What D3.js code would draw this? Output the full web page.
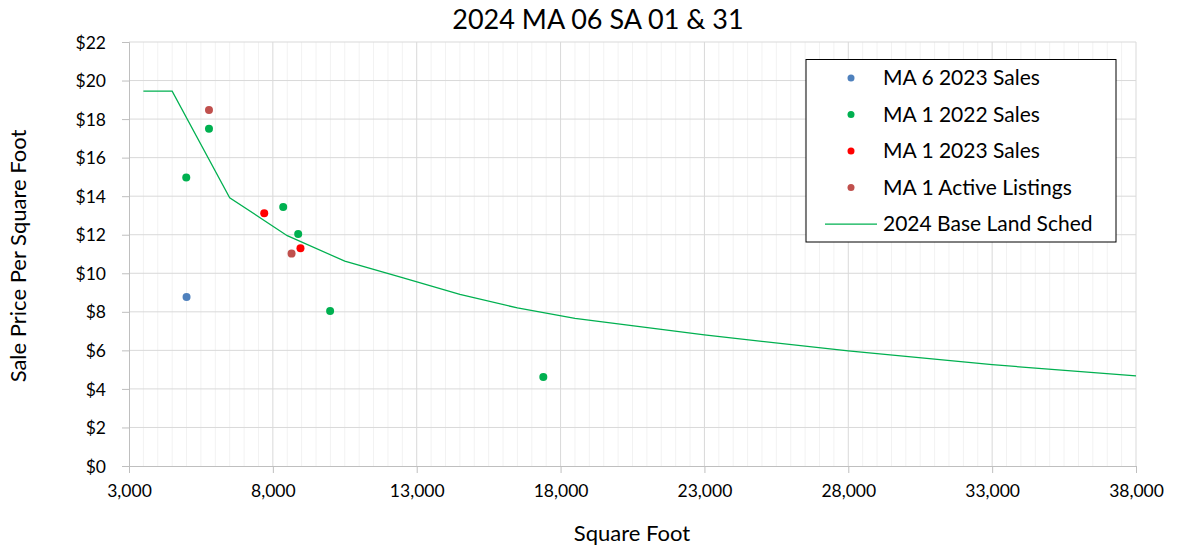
<!DOCTYPE html>
<html><head><meta charset="utf-8">
<script src="https://cdn.jsdelivr.net/npm/d3@7"></script>
<style>body{margin:0;background:#fff}svg{display:block}text{font-family:"Lato","Open Sans",sans-serif;fill:#000}</style>
</head><body><svg id="c" width="1178" height="548"></svg>
<script>
const ma6_2023 = [[5000, 8.77]];
const ma1_2022 = [[4990, 14.97], [5780, 17.5], [8360, 13.44], [8880, 12.04], [9990, 8.04], [17400, 4.62]];
const ma1_2023 = [[7700, 13.11], [8960, 11.3]];
const ma1_active = [[5780, 18.47], [8650, 11.02]];
const landSched = [[3500, 19.45], [4500, 19.45], [6500, 13.92], [8500, 11.95], [10500, 10.63], [12500, 9.77], [14500, 8.9], [16500, 8.2], [18500, 7.66], [23000, 6.8], [28000, 5.97], [33000, 5.26], [38000, 4.67]];
const xTicks = [3000, 8000, 13000, 18000, 23000, 28000, 33000, 38000];
const yTicks = [0, 2, 4, 6, 8, 10, 12, 14, 16, 18, 20, 22];
const seriesNames = ["MA 6 2023 Sales", "MA 1 2022 Sales", "MA 1 2023 Sales", "MA 1 Active Listings", "2024 Base Land Sched"];
const colors = ["#4F81BD", "#00B050", "#FF0000", "#C0504D", "#00B050"];

const svg = d3.select("#c");
const L = 129, R = 1136, T = 42, B = 466;
const x = d3.scaleLinear().domain([3000, 38000]).range([L, R]);
const y = d3.scaleLinear().domain([0, 22]).range([B, T]);

const minor = d3.range(3500, 38000, 500).filter(v => v % 5000 !== 3000);
svg.append("g").selectAll("line").data(minor).join("line")
  .attr("x1", d => x(d)).attr("x2", d => x(d)).attr("y1", T).attr("y2", B)
  .attr("stroke", "#f2f2f2").attr("stroke-width", 1);
svg.append("g").selectAll("line").data(xTicks.slice(1)).join("line")
  .attr("x1", d => x(d)).attr("x2", d => x(d)).attr("y1", T).attr("y2", B)
  .attr("stroke", "#d9d9d9").attr("stroke-width", 1);
svg.append("g").selectAll("line").data(yTicks.slice(1)).join("line")
  .attr("x1", L).attr("x2", R).attr("y1", d => y(d)).attr("y2", d => y(d))
  .attr("stroke", "#d9d9d9").attr("stroke-width", 1);

const xAxis = svg.append("g").attr("transform", `translate(0,${B})`)
  .call(d3.axisBottom(x).tickValues(xTicks).tickSize(7).tickPadding(12).tickFormat(d3.format(",")));
const yAxis = svg.append("g").attr("transform", `translate(${L},0)`)
  .call(d3.axisLeft(y).tickValues(yTicks).tickSize(7).tickPadding(16).tickFormat(d => "$" + d));
[xAxis, yAxis].forEach(g => {
  g.select(".domain").attr("stroke", "#bfbfbf");
  g.selectAll(".tick line").attr("stroke", "#bfbfbf");
  g.selectAll(".tick text").attr("font-size", 17.5).attr("font-family", "Lato, 'Open Sans', sans-serif").attr("fill", "#000");
});
yAxis.selectAll(".tick text").attr("dy", "0.35em");

svg.append("path").datum(landSched)
  .attr("fill", "none").attr("stroke", colors[4]).attr("stroke-width", 1.25)
  .attr("d", d3.line().x(d => x(d[0])).y(d => y(d[1])));

[ma6_2023, ma1_2022, ma1_2023, ma1_active].forEach((s, i) => {
  svg.append("g").selectAll("circle").data(s).join("circle")
    .attr("cx", d => x(d[0])).attr("cy", d => y(d[1])).attr("r", 4)
    .attr("fill", colors[i]);
});

svg.append("text").attr("x", 598).attr("y", 29).attr("text-anchor", "middle")
  .attr("font-size", 27).text("2024 MA 06 SA 01 & 31");
svg.append("text").attr("x", 632).attr("y", 541).attr("text-anchor", "middle")
  .attr("font-size", 22).text("Square Foot");
svg.append("text").attr("transform", "translate(26,256) rotate(-90)").attr("text-anchor", "middle")
  .attr("font-size", 22).text("Sale Price Per Square Foot");

const lg = svg.append("g");
lg.append("rect").attr("x", 806).attr("y", 59.5).attr("width", 310).attr("height", 182.5)
  .attr("fill", "#fff").attr("stroke", "#000").attr("stroke-width", 1);
const rowY = [78, 114.5, 151, 187.5, 224];
seriesNames.forEach((n, i) => {
  if (i < 4) lg.append("circle").attr("cx", 851).attr("cy", rowY[i]).attr("r", 3.5).attr("fill", colors[i]);
  else lg.append("line").attr("x1", 825).attr("x2", 877).attr("y1", rowY[i]).attr("y2", rowY[i])
    .attr("stroke", colors[i]).attr("stroke-width", 1.25);
  lg.append("text").attr("x", 883).attr("y", rowY[i]).attr("dy", "0.35em").attr("font-size", 21).text(n);
});
</script></body></html>
